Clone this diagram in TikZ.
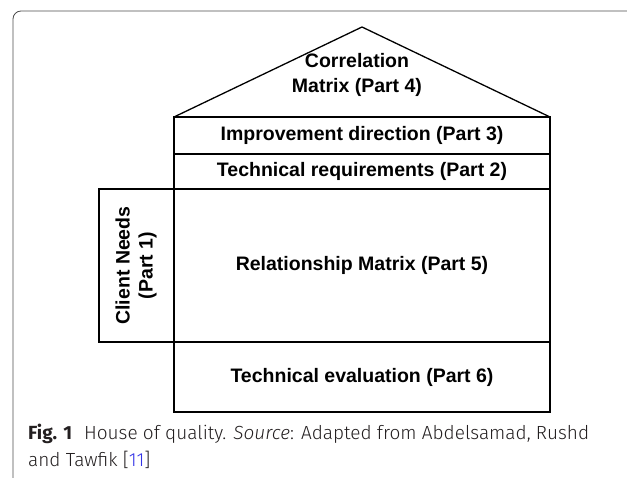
\documentclass[tikz,border=0pt]{standalone}
\usepackage{fontspec}
\setmainfont{Liberation Sans}
\newfontfamily\capfont{Fira Sans}[UprightFont=* Light, ItalicFont=* Light Italic, BoldFont=* Bold]
\usetikzlibrary{positioning}
\definecolor{captext}{RGB}{35,31,32}
\definecolor{reflink}{RGB}{50,50,230}

\begin{document}
\begin{tikzpicture}[x=1pt, y=-1pt, node distance=0pt]
		\tikzstyle{part} = [rectangle, draw=black, line width=1.3pt, minimum width=376pt, outer sep=0pt, inner sep=0pt, align=center, font=\fontsize{19.5}{23}\selectfont\bfseries];
		\tikzstyle{caption} = [anchor=base west, inner sep=0pt, text=captext, font=\capfont\fontsize{19}{28}\selectfont];
		\useasboundingbox (0,0) rectangle (627,478);
		\draw[gray!60!black, line width=0.8pt, rounded corners=8pt] (660,11) -- (13,11) -- (13,492);
		
		\node[part, minimum height=37pt](improve) at (362,135.5){Improvement direction (Part 3)};
		\node[part, minimum height=35pt, below = of improve](techreq){Technical requirements (Part 2)};
		\node[part, minimum height=153pt, below = of techreq](relmatrix){Relationship Matrix (Part 5)};
		\node[part, minimum height=70pt, below = of relmatrix](techeval){Technical evaluation (Part 6)};
		\node[part, minimum width=75pt, minimum height=153pt, left = of relmatrix](client){\rotatebox{90}{\begin{tabular}{@{}c@{}}Client Needs\\(Part 1)\end{tabular}}};
		\coordinate (apex) at (362,27);
		\node[align=center, font=\fontsize{19.5}{25}\selectfont\bfseries](corr) at (357,75){Correlation\\Matrix (Part 4)};
		
		\draw[line width=1.3pt, line join=miter] (improve.north west) -- (apex) -- (improve.north east);
		\draw[line width=2.6pt] (relmatrix.north west) -- (relmatrix.north east);
		\draw[line width=2pt] (improve.north east) -- (techeval.south east);
		
		\node[caption](caption1) at (28,439){\textbf{Fig. 1}\hspace{12pt}House of quality. \textit{Source}: Adapted from Abdelsamad, Rushd};
		\node[caption](caption2) at (28,467){and Tawfik [{\color{reflink}11}]};
\end{tikzpicture}
\end{document}
